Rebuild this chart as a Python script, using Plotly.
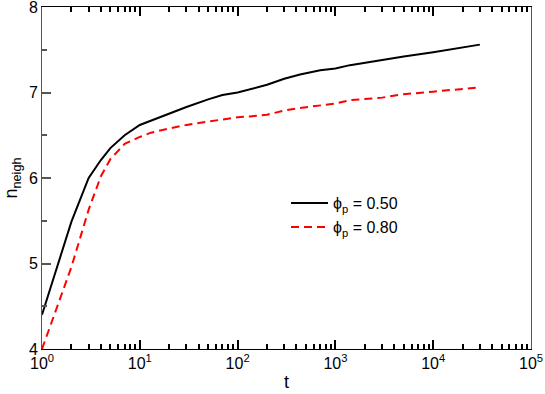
import plotly.graph_objects as go

# n_neigh(t) for two packing fractions
t_050 = [1, 2, 3, 4, 5, 7, 10, 13, 20, 30, 50, 70, 100, 134, 200, 300, 435,
         700, 1000, 1410, 2000, 3000, 5000, 10000, 20000, 30000]
n_050 = [4.40, 5.49, 6.00, 6.21, 6.35, 6.50, 6.62, 6.67, 6.76, 6.83, 6.92, 6.97,
         7.00, 7.04, 7.09, 7.16, 7.21, 7.26, 7.28, 7.32, 7.35, 7.38, 7.42, 7.47,
         7.53, 7.56]

t_080 = [1, 2, 3, 4, 5, 7, 10, 13, 20, 30, 50, 100, 134, 200, 300, 435,
         1000, 1410, 3000, 5000, 10000, 30000]
n_080 = [4.00, 4.96, 5.63, 6.02, 6.22, 6.40, 6.48, 6.53, 6.58, 6.62, 6.66, 6.71,
         6.72, 6.74, 6.79, 6.82, 6.87, 6.91, 6.94, 6.98, 7.01, 7.06]

x_ticks = [1, 10, 100, 1000, 10000, 100000]
x_labels = ["10<sup>0</sup>", "10<sup>1</sup>", "10<sup>2</sup>",
            "10<sup>3</sup>", "10<sup>4</sup>", "10<sup>5</sup>"]
y_ticks = [4, 5, 6, 7, 8]

FONT = "Liberation Sans"
AX_X = "black"
AX_Y = "#555"

fig = go.Figure()
fig.add_trace(go.Scatter(
    x=t_050, y=n_050, mode="lines", name="\u03d5<sub>p</sub> = 0.50",
    line=dict(color="black", width=2),
))
fig.add_trace(go.Scatter(
    x=t_080, y=n_080, mode="lines", name="\u03d5<sub>p</sub> = 0.80",
    line=dict(color="#ff0000", width=2, dash="8px,5px"),
))

fig.update_layout(
    width=545, height=394,
    margin=dict(l=42, r=14, t=7, b=45, autoexpand=False),
    paper_bgcolor="white", plot_bgcolor="white",
    font=dict(family=FONT, size=16, color="black"),
    showlegend=True,
    legend=dict(x=0.499, y=0.476, xanchor="left", yanchor="top",
                bgcolor="rgba(0,0,0,0)", font=dict(size=16),
                tracegroupgap=0, itemwidth=37),
)
fig.update_xaxes(
    type="log", range=[0, 5], automargin=False,
    tickmode="array", tickvals=x_ticks, ticktext=x_labels,
    ticks="inside", ticklen=9, tickcolor=AX_X, tickwidth=2,
    minor=dict(dtick="D1", ticks="inside", ticklen=5, tickcolor=AX_X,
               tickwidth=2, showgrid=False),
    ticklabeloverflow="allow",
    showline=True, linecolor=AX_X, linewidth=1, mirror="ticks",
    showgrid=False, zeroline=False,
    title=dict(text="t", font=dict(size=18), standoff=4),
)
fig.update_yaxes(
    range=[4, 8], automargin=False,
    tickmode="array", tickvals=y_ticks,
    ticks="inside", ticklen=9, tickcolor=AX_Y, tickwidth=2,
    minor=dict(dtick=0.5, ticks="inside", ticklen=5, tickcolor=AX_Y,
               tickwidth=2, showgrid=False),
    ticklabeloverflow="allow",
    showline=True, linecolor=AX_Y, linewidth=1, mirror=True,
    showgrid=False, zeroline=False,
    title=dict(text="n<sub>neigh</sub>", font=dict(size=18), standoff=6),
)

# the page body has an 8px margin by default; drop it so the chart fills the window
fig.write_html("out.html", post_script="document.body.style.margin='0';",
               config={"displayModeBar": False})
